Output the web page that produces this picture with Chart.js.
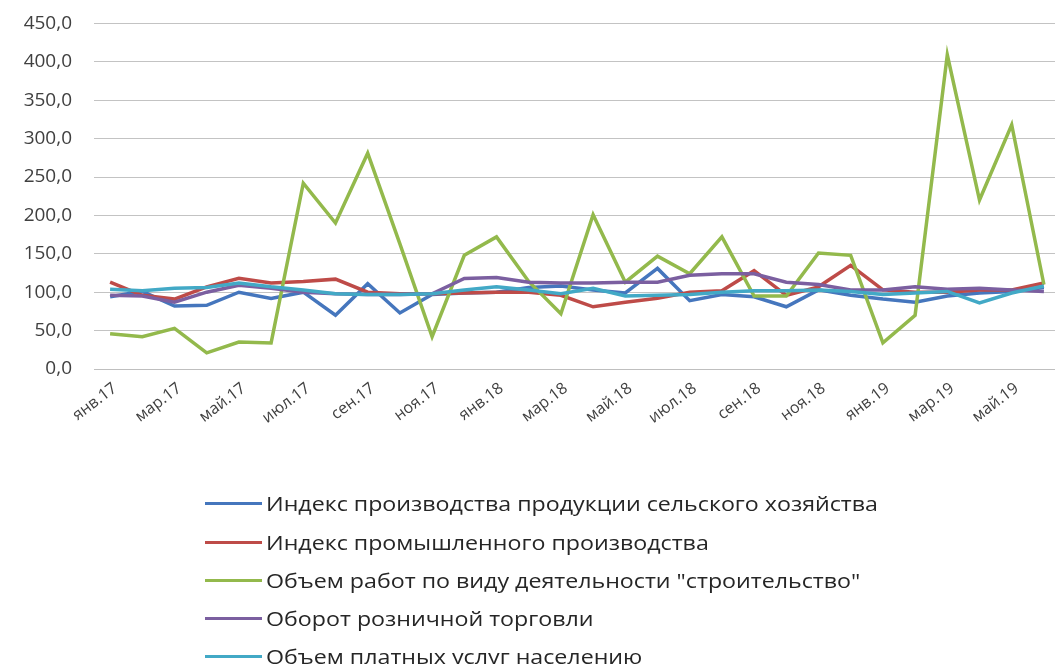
<!DOCTYPE html>
<html>
<head>
<meta charset="utf-8">
<script src="https://cdn.jsdelivr.net/npm/chart.js@4/dist/chart.umd.min.js"></script>
<style>
  html, body { margin: 0; padding: 0; background: #fff; overflow: hidden; width: 1055px; height: 664px; }
  #wrap { position: absolute; left: 0; top: 0; width: 1062px; height: 664px; overflow: hidden; }
  #c { position: absolute; left: 0; top: -10px; }
  #legend { position: absolute; left: 0; top: 0; font-family: "Open Sans", sans-serif; font-size: 20px; color: #262626; }
  .item { position: absolute; left: 205px; height: 28px; display: flex; align-items: center; white-space: nowrap; }
  .swatch { width: 57px; height: 3px; margin-right: 4px; flex: none; }
  .txt { display: inline-block; transform: scaleX(1.16); transform-origin: left center; }
</style>
</head>
<body>
<div id="wrap">
  <canvas id="c" width="1062" height="674"></canvas>
  <div id="legend"></div>
</div>
<script>
const categories = ['янв.17','фев.17','мар.17','апр.17','май.17','июн.17','июл.17','авг.17','сен.17','окт.17','ноя.17','дек.17',
  'янв.18','фев.18','мар.18','апр.18','май.18','июн.18','июл.18','авг.18','сен.18','окт.18','ноя.18','дек.18',
  'янв.19','фев.19','мар.19','апр.19','май.19','июн.19'];

const seriesNames = [
  'Индекс производства продукции сельского хозяйства',
  'Индекс промышленного производства',
  'Объем работ по виду деятельности "строительство"',
  'Оборот розничной торговли',
  'Объем платных услуг населению'
];

const agriculture   = [94, 101, 82, 83, 100, 92, 100, 70, 111, 73, 97, 99, 100, 106, 108, 103, 99, 131, 89, 97, 94, 81, 103, 96, 91, 87, 95, 99, 101, 106];
const industry      = [113, 96, 91, 107, 118, 112, 114, 117, 100, 98, 98, 99, 100, 100, 96, 81, 87, 92, 100, 102, 128, 96, 107, 135, 103, 100, 100, 103, 103, 112];
const construction  = [46, 42, 53, 21, 35, 34, 242, 190, 281, 163, 42, 148, 172, 114, 72, 201, 113, 147, 124, 172, 95, 95, 151, 148, 34, 70, 409, 220, 318, 110];
const retail        = [96, 95, 87, 100, 109, 105, 100, 98, 97, 97, 98, 118, 119, 113, 112, 112, 113, 113, 122, 124, 124, 113, 110, 103, 103, 107, 104, 105, 103, 101];
const services      = [104, 102, 105, 106, 112, 107, 103, 98, 97, 97, 98, 103, 107, 103, 98, 105, 95, 96, 97, 100, 102, 102, 103, 101, 97, 99, 101, 86, 99, 108];

const yTicks = [0, 50, 100, 150, 200, 250, 300, 350, 400, 450];

const colors = ['#4576bd', '#be4b48', '#93b94c', '#7b5fa0', '#42a9c6'];
const seriesValues = [agriculture, industry, construction, retail, services];

const datasets = seriesValues.map((vals, i) => ({
  label: seriesNames[i],
  data: vals,
  borderColor: colors[i],
  backgroundColor: colors[i],
  borderWidth: 3.5,
  pointRadius: 0,
  tension: 0,
  fill: false,
  order: 4 - i
}));

new Chart(document.getElementById('c'), {
  type: 'line',
  data: { labels: categories, datasets },
  options: {
    responsive: false,
    animation: false,
    layout: { padding: { top: 0, right: 2, left: 0, bottom: 0 } },
    plugins: { legend: { display: false }, tooltip: { enabled: false } },
    scales: {
      x: {
        offset: true,
        grid: { display: false },
        border: { display: true, color: '#bfbfbf', width: 1 },
        ticks: {
          autoSkip: false,
          minRotation: 37,
          maxRotation: 37,
          padding: 2,
          labelOffset: 5,
          color: '#404040',
          font: { family: 'Open Sans', size: 16 },
          callback: (v, i) => (i % 2 === 0 ? categories[i] : null)
        },
        afterFit: (s) => { s.height = 295; }
      },
      y: {
        min: 0,
        max: 450,
        afterBuildTicks: (s) => { s.ticks = yTicks.map(v => ({ value: v })); },
        grid: { color: '#c3c3c3', lineWidth: 1, drawTicks: false },
        border: { display: false },
        ticks: {
          padding: 22,
          color: '#404040',
          font: { family: 'Open Sans', size: 19 },
          callback: (v) => v.toFixed(1).replace('.', ',')
        },
        afterFit: (s) => { s.width = 94; }
      }
    }
  }
});

const legendRows = [503, 542, 580, 618, 656];
const legend = document.getElementById('legend');
seriesNames.forEach((name, i) => {
  const item = document.createElement('div');
  item.className = 'item';
  item.style.top = (legendRows[i] - 14) + 'px';
  const sw = document.createElement('span');
  sw.className = 'swatch';
  sw.style.background = colors[i];
  const tx = document.createElement('span');
  tx.className = 'txt';
  tx.textContent = name;
  item.appendChild(sw);
  item.appendChild(tx);
  legend.appendChild(item);
});
</script>
</body>
</html>
